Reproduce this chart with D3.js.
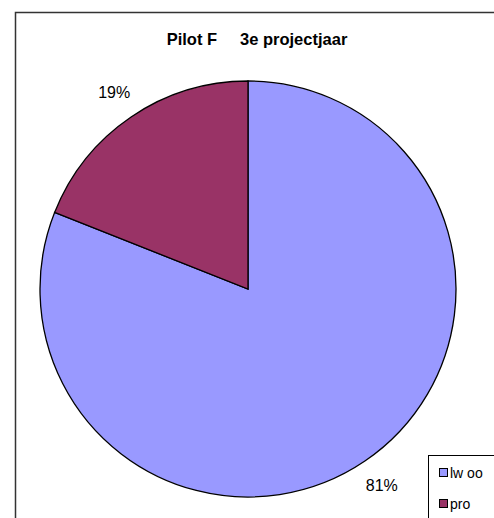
<!DOCTYPE html>
<html>
<head>
<meta charset="utf-8">
<script src="https://cdn.jsdelivr.net/npm/d3@7"></script>
<style>
  body { margin: 0; background: #fff; }
  svg { display: block; font-family: "Liberation Sans", Arial, sans-serif; }
</style>
</head>
<body>
<svg id="chart" width="494" height="518"></svg>
<script>
// chart data
let categories = ["lw oo", "pro"];
let values = [81, 19];
let colors = ["#9999FF", "#993366"];
let title = "Pilot F\u00a0\u00a0\u00a0\u00a0 3e projectjaar";

let svg = d3.select("#chart");

// outer frame of the chart area (runs off the right and bottom edge)
svg.append("rect")
  .attr("x", 15.5)
  .attr("y", 12.5)
  .attr("width", 500)
  .attr("height", 520)
  .attr("fill", "#fff")
  .attr("stroke", "#333")
  .attr("stroke-width", 1.5);

svg.append("text")
  .attr("x", 257)
  .attr("y", 45)
  .attr("text-anchor", "middle")
  .attr("font-size", 16.5)
  .attr("font-weight", "bold")
  .text(title);

let cx = 248, cy = 289, r = 208;

let pie = d3.pie().sort(null).value((d) => d.value);
let arcs = pie(categories.map((c, i) => ({ name: c, value: values[i], color: colors[i] })));

let arc = d3.arc().innerRadius(0).outerRadius(r);

let g = svg.append("g").attr("transform", `translate(${cx},${cy})`);

g.selectAll("path")
  .data(arcs)
  .enter()
  .append("path")
  .attr("d", arc)
  .attr("fill", (d) => d.data.color)
  .attr("stroke", "#000")
  .attr("stroke-width", 1.3)
  .attr("stroke-linejoin", "miter");

// percentage labels outside the pie, at the slice middle
let labelArc = d3.arc().innerRadius(r + 30).outerRadius(r + 30);
let total = d3.sum(values);

g.selectAll("text.pct")
  .data(arcs)
  .enter()
  .append("text")
  .attr("class", "pct")
  .attr("transform", (d) => `translate(${labelArc.centroid(d)})`)
  .attr("text-anchor", "middle")
  .attr("dy", "0.35em")
  .attr("font-size", 16)
  .text((d) => Math.round(d.data.value / total * 100) + "%");

// legend box
let legend = svg.append("g").attr("transform", "translate(428,455)");
legend.append("rect")
  .attr("x", 0.5)
  .attr("y", 0.5)
  .attr("width", 80)
  .attr("height", 80)
  .attr("fill", "#fff")
  .attr("stroke", "#000")
  .attr("stroke-width", 1);

let items = legend.selectAll("g.item")
  .data(categories)
  .enter()
  .append("g")
  .attr("class", "item")
  .attr("transform", (d, i) => `translate(0,${18 + i * 31})`);

items.append("rect")
  .attr("x", 11.5)
  .attr("y", -4.5)
  .attr("width", 8)
  .attr("height", 8)
  .attr("fill", (d, i) => colors[i])
  .attr("stroke", "#000")
  .attr("stroke-width", 1);

items.append("text")
  .attr("x", 22)
  .attr("y", 0)
  .attr("dy", "0.35em")
  .attr("font-size", 14)
  .text((d) => d);
</script>
</body>
</html>
